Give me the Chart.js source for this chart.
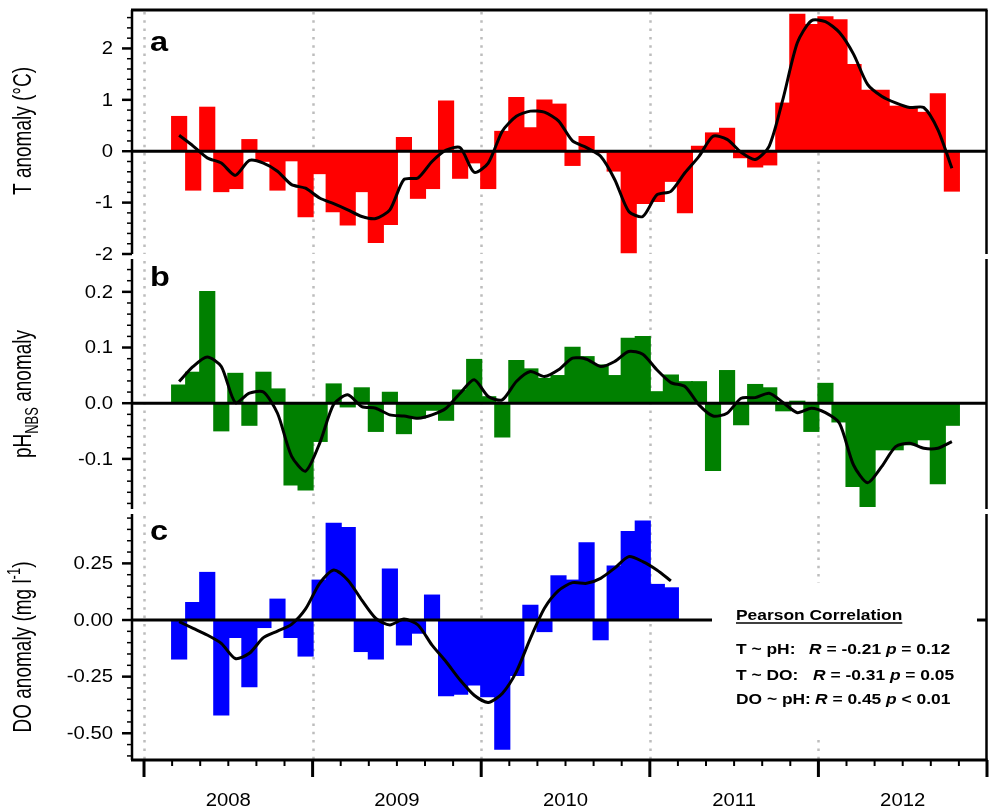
<!DOCTYPE html>
<html>
<head>
<meta charset="utf-8">
<script src="https://cdn.jsdelivr.net/npm/chart.js@4/dist/chart.umd.min.js"></script>
<style>
  html, body { margin: 0; padding: 0; background: #fff; }
  #wrap { position: relative; width: 991px; height: 809px; background: #fff; }
  #wrap canvas { position: absolute; left: 0; top: 0; }
</style>
</head>
<body>
<div id="wrap">
  <canvas id="panelA" width="991" height="809"></canvas>
  <canvas id="panelB" width="991" height="809"></canvas>
  <canvas id="panelC" width="991" height="809"></canvas>
</div>
<script>
// monthly samples, Mar 2008 .. Oct 2012
const months = [
  "2008-03","2008-04","2008-05","2008-06","2008-07","2008-08","2008-09","2008-10","2008-11","2008-12",
  "2009-01","2009-02","2009-03","2009-04","2009-05","2009-06","2009-07","2009-08","2009-09","2009-10","2009-11","2009-12",
  "2010-01","2010-02","2010-03","2010-04","2010-05","2010-06","2010-07","2010-08","2010-09","2010-10","2010-11","2010-12",
  "2011-01","2011-02","2011-03","2011-04","2011-05","2011-06","2011-07","2011-08","2011-09","2011-10","2011-11","2011-12",
  "2012-01","2012-02","2012-03","2012-04","2012-05","2012-06","2012-07","2012-08","2012-09","2012-10"
];
const monthsDO = months.slice(0, 36); // DO stops in Feb 2011

// T anomaly (°C)
const tempAnom = [
  0.68, -0.76, 0.86, -0.79, -0.73, 0.23, -0.20, -0.76, -0.19, -1.28,
  -0.44, -1.18, -1.44, -0.79, -1.78, -1.43, 0.27, -0.92, -0.73, 0.98,
  -0.53, -0.23, -0.73, 0.39, 1.05, 0.46, 1.00, 0.92, -0.28, 0.29,
  -0.03, -0.39, -1.98, -1.02, -0.98, -0.59, -1.20, 0.10, 0.36, 0.45,
  -0.13, -0.31, -0.27, 0.94, 2.67, 2.47, 2.62, 2.56, 1.69, 1.19,
  1.19, 0.88, 0.87, 0.76, 1.12, -0.78
];
const tempSmooth = [
  0.31, 0.10, -0.13, -0.23, -0.47, -0.18, -0.23, -0.39, -0.65, -0.72,
  -0.91, -1.02, -1.14, -1.27, -1.31, -1.14, -0.55, -0.52, -0.20, 0.02,
  0.07, -0.41, -0.23, 0.39, 0.68, 0.78, 0.76, 0.59, 0.20, 0.07,
  -0.10, -0.55, -1.17, -1.27, -0.85, -0.78, -0.42, -0.10, 0.29, 0.23,
  -0.02, -0.16, 0.10, 1.04, 2.11, 2.54, 2.52, 2.31, 1.89, 1.30,
  1.07, 0.94, 0.85, 0.85, 0.42, -0.33
];

// pH(NBS) anomaly
const phAnom = [
  0.033, 0.056, 0.201, -0.050, 0.054, -0.040, 0.056, 0.026, -0.147, -0.156,
  -0.069, 0.035, -0.007, 0.028, -0.051, 0.020, -0.055, -0.027, -0.013, -0.031,
  0.024, 0.079, 0.012, -0.061, 0.077, 0.062, 0.045, 0.050, 0.101, 0.084,
  0.069, 0.050, 0.117, 0.120, 0.021, 0.051, 0.039, 0.039, -0.121, 0.059,
  -0.039, 0.034, 0.028, -0.014, 0.004, -0.051, 0.036, -0.034, -0.150, -0.186,
  -0.084, -0.084, -0.075, -0.066, -0.145, -0.040
];
const phSmooth = [
  0.039, 0.066, 0.083, 0.066, 0.001, 0.018, 0.020, -0.018, -0.095, -0.122,
  -0.072, -0.002, 0.015, -0.006, -0.009, -0.021, -0.023, -0.027, -0.021, -0.009,
  0.018, 0.042, 0.012, 0.006, 0.039, 0.057, 0.048, 0.060, 0.081, 0.079,
  0.066, 0.075, 0.093, 0.088, 0.060, 0.037, 0.030, -0.003, -0.023, -0.018,
  0.009, 0.010, 0.018, 0.001, -0.017, -0.009, -0.017, -0.036, -0.111, -0.143,
  -0.114, -0.078, -0.072, -0.081, -0.081, -0.069
];

// DO anomaly (mg l-1)
const doAnom = [
  -0.173, 0.078, 0.211, -0.420, -0.078, -0.295, -0.034, 0.093, -0.078, -0.160,
  0.177, 0.428, 0.409, -0.140, -0.173, 0.226, -0.111, -0.059, 0.111, -0.335,
  -0.329, -0.288, -0.340, -0.571, -0.246, 0.066, -0.052, 0.196, 0.177, 0.342,
  -0.088, 0.239, 0.391, 0.438, 0.158, 0.143
];
const doSmooth = [
  -0.007, -0.037, -0.066, -0.103, -0.170, -0.147, -0.078, -0.049, -0.019, 0.049,
  0.162, 0.221, 0.177, 0.088, 0.007, -0.022, 0.004, -0.022, -0.111, -0.184,
  -0.265, -0.332, -0.364, -0.324, -0.229, -0.081, 0.052, 0.130, 0.165, 0.162,
  0.184, 0.229, 0.280, 0.258, 0.221, 0.173
];

// axis ticks
const tempTicks = [-2, -1, 0, 1, 2];
const tempTickLabels = ["-2", "-1", "0", "1", "2"];
const phTicks = [-0.1, 0, 0.1, 0.2];
const phTickLabels = ["-0.1", "0.0", "0.1", "0.2"];
const doTicks = [-0.5, -0.25, 0, 0.25];
const doTickLabels = ["-0.50", "-0.25", "0.00", "0.25"];
const yearBreaks = ["2008-01", "2009-01", "2010-01", "2011-01", "2012-01", "2013-01"];
const yearLabels = ["2008", "2009", "2010", "2011", "2012"];

const corrRows = [
  ["T ~ pH:", "-0.21", "=", "0.12"],
  ["T ~ DO:", "-0.31", "=", "0.05"],
  ["DO ~ pH:", "0.45", "<", "0.01"]
];

// ---- helpers ----
const STRETCH = 1.16;      // figure text is a bit wide
const TITLE_STRETCH = 1.35; // axis titles are even wider
const FACE = '"Liberation Sans", Arial, sans-serif';

// months since Jan 2008, centred in the month
function monthPos(s, centre = true) {
  const [y, m] = s.split("-").map(Number);
  return (y - 2008) * 12 + (m - 1) + (centre ? 0.5 : 0);
}
const pts = (labels, vals) => labels.map((m, i) => ({ x: monthPos(m), y: vals[i] }));

function fontOf(s) {
  return (s.italic ? "italic " : "") + (s.bold ? "bold " : "") + s.size + "px " + FACE;
}

function drawSegs(ctx, segs, x, y, align, rotate) {
  ctx.save();
  ctx.translate(x, y);
  if (rotate) { ctx.rotate(-Math.PI / 2); ctx.scale(1, TITLE_STRETCH); }
  else ctx.scale(STRETCH, 1);
  let w = 0;
  segs.forEach(s => { ctx.font = fontOf(s); w += ctx.measureText(s.t).width; });
  let cx = align === "right" ? -w : align === "center" ? -w / 2 : 0;
  segs.forEach(s => {
    ctx.font = fontOf(s);
    ctx.fillText(s.t, cx, s.dy || 0);
    cx += ctx.measureText(s.t).width;
  });
  ctx.restore();
  return rotate ? w : w * STRETCH;
}

function line(ctx, x1, y1, x2, y2, w) {
  ctx.lineWidth = w;
  ctx.beginPath();
  ctx.moveTo(x1, y1);
  ctx.lineTo(x2, y2);
  ctx.stroke();
}

function makePanel(id, p) {
  const decor = {
    id: "decor",
    beforeDatasetsDraw(chart) {
      const { ctx, chartArea: a, scales: { x } } = chart;
      ctx.save();
      ctx.strokeStyle = "#bdbdbd";
      ctx.setLineDash([2.5, 5.8]);
      yearBreaks.slice(0, 5).forEach(b => {
        const px = Math.round(x.getPixelForValue(monthPos(b, false))) + 0.5;
        line(ctx, px, a.top + 2, px, a.bottom, 2.5);
      });
      ctx.setLineDash([]);
      if (p.corr) {
        ctx.fillStyle = "#fff";
        ctx.fillRect(712, 583, 265, 152);
      }
      ctx.restore();
    },
    afterDatasetsDraw(chart) {
      const { ctx, chartArea: a, scales: { x, y } } = chart;
      ctx.save();
      ctx.strokeStyle = "#000";
      ctx.fillStyle = "#000";
      ctx.lineCap = "butt";

      // zero line
      const y0 = y.getPixelForValue(0);
      if (p.corr) {
        line(ctx, a.left, y0, 712, y0, 3);
        line(ctx, a.right - 10, y0, a.right, y0, 3);
      } else {
        line(ctx, a.left, y0, a.right, y0, 3);
      }

      // frame
      line(ctx, a.left, a.top, a.left, a.bottom, 2.5);
      line(ctx, a.right - 0.5, a.top, a.right - 0.5, a.bottom, 2.5);
      if (p.topBorder) line(ctx, a.left - 1, a.top, a.right + 0.5, a.top, 3);

      // y ticks
      for (let v = p.minorFrom; v <= y.max + 1e-9; v += p.minorStep) {
        const vv = Math.round(v * 1000) / 1000;
        if (p.ticks.some(t => Math.abs(t - vv) < 1e-6)) continue;
        const py = y.getPixelForValue(vv);
        line(ctx, a.left - 5, py, a.left, py, 1.5);
      }
      ctx.textBaseline = "middle";
      p.ticks.forEach((t, i) => {
        const py = y.getPixelForValue(t);
        line(ctx, a.left - 10, py, a.left, py, 2.5);
        drawSegs(ctx, [{ t: p.tickLabels[i], size: 17.5 }], 113, py + 1, "right");
      });

      // axis title
      ctx.textBaseline = "alphabetic";
      drawSegs(ctx, p.title, 31, p.titleY, "center", true);

      // panel letter
      drawSegs(ctx, [{ t: p.letter, size: 28, bold: true }], 150, p.letterY, "left");

      // bottom axis
      if (p.xAxis) {
        line(ctx, a.left - 1, a.bottom, a.right + 0.5, a.bottom, 3);
        for (let m = 2; m < 60; m += 2) {
          if (m % 12 === 0) continue;
          const px = x.getPixelForValue(m);
          line(ctx, px, a.bottom, px, a.bottom + 6, 2);
        }
        yearBreaks.forEach(b => {
          const px = x.getPixelForValue(monthPos(b, false));
          line(ctx, px, a.bottom, px, a.bottom + 17, 3);
        });
        yearLabels.forEach(lbl => {
          const px = x.getPixelForValue(monthPos(lbl + "-07", false));
          drawSegs(ctx, [{ t: lbl, size: 17.5 }], px, 806, "center");
        });
      }

      // correlation note
      if (p.corr) {
        const w = drawSegs(ctx, [{ t: "Pearson Correlation", size: 15, bold: true }], 736, 620, "left");
        line(ctx, 736, 623, 736 + w, 623, 1.5);
        const rx = [809, 813, 815];
        const by = [654, 680, 704];
        corrRows.forEach((r, i) => {
          drawSegs(ctx, [{ t: r[0], size: 15, bold: true }], 736, by[i], "left");
          drawSegs(ctx, [
            { t: "R", size: 15, bold: true, italic: true },
            { t: " = " + r[1] + " ", size: 15, bold: true },
            { t: "p", size: 15, bold: true, italic: true },
            { t: " " + r[2] + " " + r[3], size: 15, bold: true }
          ], rx[i], by[i], "left");
        });
      }
      ctx.restore();
    }
  };

  return new Chart(document.getElementById(id), {
    type: "bar",
    data: {
      datasets: [
        {
          type: "line",
          data: p.line,
          borderColor: "#000",
          borderWidth: 3,
          pointRadius: 0,
          tension: 0.25,
          order: 1
        },
        {
          type: "bar",
          data: p.bars,
          backgroundColor: p.color,
          barThickness: 15.5,
          borderWidth: 0,
          order: 2
        }
      ]
    },
    options: {
      responsive: false,
      animation: false,
      devicePixelRatio: 1,
      layout: { padding: { left: 132, right: 4, top: p.top, bottom: 809 - p.bottom } },
      plugins: { legend: { display: false }, tooltip: { enabled: false } },
      scales: {
        x: { type: "linear", min: -0.855, max: 60, offset: false, display: false },
        y: { type: "linear", min: p.min, max: p.max, display: false }
      }
    },
    plugins: [decor]
  });
}

makePanel("panelA", {
  top: 10, bottom: 254, min: -2, max: 2.748,
  bars: pts(months, tempAnom), line: pts(months, tempSmooth), color: "#ff0000",
  ticks: tempTicks, tickLabels: tempTickLabels, minorFrom: -2, minorStep: 0.2,
  title: [{ t: "T anomaly (°C)", size: 19 }], titleY: 131,
  letter: "a", letterY: 51, topBorder: true
});

makePanel("panelB", {
  top: 259, bottom: 509, min: -0.19, max: 0.259,
  bars: pts(months, phAnom), line: pts(months, phSmooth), color: "#008000",
  ticks: phTicks, tickLabels: phTickLabels, minorFrom: -0.18, minorStep: 0.02,
  title: [
    { t: "pH", size: 19 },
    { t: "NBS", size: 13, dy: 5 },
    { t: " anomaly", size: 19 }
  ], titleY: 394,
  letter: "b", letterY: 286
});

makePanel("panelC", {
  top: 514, bottom: 760, min: -0.618, max: 0.468,
  bars: pts(monthsDO, doAnom), line: pts(monthsDO, doSmooth), color: "#0000ff",
  ticks: doTicks, tickLabels: doTickLabels, minorFrom: -0.6, minorStep: 0.05,
  title: [
    { t: "DO anomaly (mg l", size: 19 },
    { t: "-1", size: 13, dy: -8 },
    { t: ")", size: 19 }
  ], titleY: 647,
  letter: "c", letterY: 540, xAxis: true, corr: true
});
</script>
</body>
</html>
